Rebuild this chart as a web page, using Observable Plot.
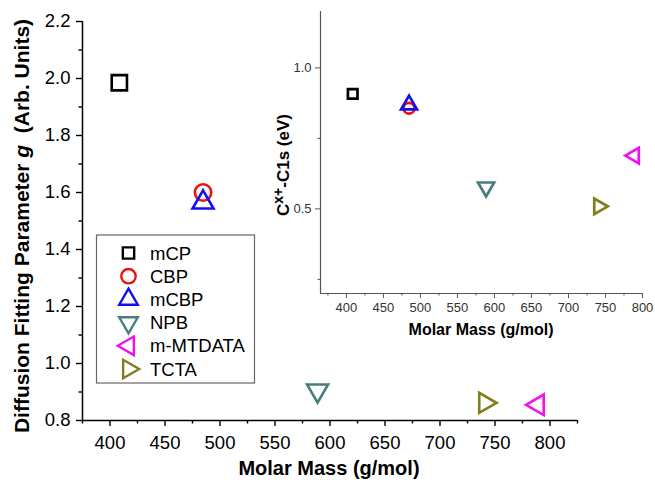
<!DOCTYPE html>
<html><head><meta charset="utf-8">
<script src="https://cdn.jsdelivr.net/npm/d3@7"></script>
<script src="https://cdn.jsdelivr.net/npm/@observablehq/plot@0.6"></script>
<style>
body{margin:0;background:#fff;}
#wrap{position:relative;width:655px;height:485px;overflow:hidden;font-family:"Liberation Sans",Arial,sans-serif;}
#wrap svg{position:absolute;}
</style></head><body><div id="wrap"></div>
<script>
// ---- data ----
const compounds = ["mCP", "CBP", "mCBP", "NPB", "m-MTDATA", "TCTA"];
const molarMass = [408.5, 484.6, 484.6, 588.7, 788.9, 740.9];
const gParam = [1.985, 1.60, 1.565, 0.905, 0.855, 0.862];
const energyShift = [0.908, 0.857, 0.869, 0.577, 0.689, 0.509];

const mainXTicks = [400, 450, 500, 550, 600, 650, 700, 750, 800];
const mainXMinor = [375, 425, 475, 525, 575, 625, 675, 725, 775, 825];
const mainYTicks = [0.8, 1.0, 1.2, 1.4, 1.6, 1.8, 2.0, 2.2];
const mainYMinor = [0.9, 1.1, 1.3, 1.5, 1.7, 1.9, 2.1];
const insetXTicks = [400, 450, 500, 550, 600, 650, 700, 750, 800];
const insetXMinor = [375, 425, 475, 525, 575, 625, 675, 725, 775];
const insetYTicks = [0.5, 1.0];
const insetYMinor = [0.25, 0.75];
const mainXDomain = [375, 825];
const mainYDomain = [0.8, 2.2];
const insetXDomain = [365, 800];
const insetYDomain = [0.2, 1.2];

// ---- styles ----
const colors = ["#000000", "#ee1111", "#1010f0", "#4a7e7e", "#f010f0", "#7f7f1f"];
function tri(angle) {
  return {draw(ctx, size) {
    const y = -Math.sqrt(size / (3 * Math.sqrt(3)));
    const pts = [[0, 2 * y], [-Math.sqrt(3) * y, -y], [Math.sqrt(3) * y, -y]];
    const c = Math.cos(angle), s = Math.sin(angle);
    pts.forEach(([px, py], i) => {
      const X = px * c - py * s, Y = px * s + py * c;
      i ? ctx.lineTo(X, Y) : ctx.moveTo(X, Y);
    });
    ctx.closePath();
  }};
}
const shapes = [d3.symbolSquare, d3.symbolCircle, tri(0), tri(Math.PI), tri(-Math.PI / 2), tri(Math.PI / 2)];
const mainR = [8.6, 8.2, 7.8, 7.8, 7.6, 7.4];
const insetR = [5.4, 5.4, 5.9, 6.0, 5.8, 5.8];
const legendR = [6.4, 7.2, 6.9, 6.9, 6.9, 6.9];

const rows = compounds.map((c, i) => ({name: c, mass: molarMass[i], g: gParam[i], e: energyShift[i]}));
const FONT = '"Liberation Sans", Arial, sans-serif';

function dots(yKey, rArr, sw) {
  return rows.map((d, i) => Plot.dot([d], {
    x: "mass", y: yKey, symbol: shapes[i], r: rArr[i],
    stroke: colors[i], strokeWidth: sw, fill: "none"
  }));
}

const wrap = document.getElementById("wrap");

// ---- main chart ----
const main = Plot.plot({
  width: 655, height: 485,
  marginLeft: 82, marginRight: 78, marginTop: 21, marginBottom: 65,
  style: {fontFamily: FONT, background: "transparent", color: "#000", overflow: "visible"},
  x: {domain: mainXDomain, label: null},
  y: {domain: mainYDomain, label: null},
  marks: [
    Plot.axisX({ticks: mainXTicks, tickSize: 6, tickPadding: 9, strokeWidth: 1.4, fontSize: 18.5, label: null, tickFormat: d => d}),
    Plot.axisX({ticks: mainXMinor, tickSize: 3.5, strokeWidth: 1.4, label: null, tickFormat: () => ""}),
    Plot.axisY({ticks: mainYTicks, tickSize: 6, tickPadding: 6, strokeWidth: 1.4, fontSize: 18.5, label: null, tickFormat: d3.format(".1f")}),
    Plot.axisY({ticks: mainYMinor, tickSize: 3.5, strokeWidth: 1.4, label: null, tickFormat: () => ""}),
    Plot.ruleY([mainYDomain[0]], {strokeWidth: 1.5}),
    Plot.ruleX([mainXDomain[0]], {strokeWidth: 1.5}),
    ...dots("g", mainR, 2.6)
  ]
});
main.style.left = "0px"; main.style.top = "0px";
wrap.appendChild(main);

const ms = d3.select(main);
ms.append("text").attr("x", 329).attr("y", 475).attr("text-anchor", "middle")
  .attr("font-family", FONT).attr("font-size", 20).attr("font-weight", "bold").text("Molar Mass (g/mol)");
const yl = ms.append("text").attr("transform", "translate(29,226) rotate(-90)").attr("text-anchor", "middle")
  .attr("font-family", FONT).attr("font-size", 21).attr("font-weight", "bold");
yl.append("tspan").text("Diffusion Fitting Parameter ");
yl.append("tspan").attr("font-style", "italic").text("g");
yl.append("tspan").style("white-space", "pre").text("  (Arb. Units)");

// legend
const lg = ms.append("g").attr("text-anchor", "start");
lg.append("rect").attr("x", 96.5).attr("y", 235).attr("width", 158).attr("height", 148)
  .attr("fill", "white").attr("stroke", "#666").attr("stroke-width", 1.2);
compounds.forEach((c, i) => {
  const cy = 253 + i * 23.2;
  lg.append("path").attr("transform", `translate(128.5,${cy})`)
    .attr("d", d3.symbol(shapes[i], Math.PI * legendR[i] * legendR[i])())
    .attr("fill", "none").attr("stroke", colors[i]).attr("stroke-width", 2.4);
  lg.append("text").attr("x", 150).attr("y", cy).attr("dy", "0.36em").attr("text-anchor", "start")
    .attr("font-family", FONT).attr("font-size", 18.5).text(c);
});

// ---- inset chart ----
const inset = Plot.plot({
  width: 395, height: 350,
  marginLeft: 60, marginRight: 13, marginTop: 11, marginBottom: 57,
  style: {fontFamily: FONT, background: "transparent", color: "#333", overflow: "visible"},
  x: {domain: insetXDomain, label: null},
  y: {domain: insetYDomain, label: null},
  marks: [
    Plot.axisX({ticks: insetXTicks, tickSize: 5, tickPadding: 4, stroke: "#555", fontSize: 13, label: null, tickFormat: d => d}),
    Plot.axisX({ticks: insetXMinor, tickSize: 2.5, stroke: "#555", label: null, tickFormat: () => ""}),
    Plot.axisY({ticks: insetYTicks, tickSize: 5, tickPadding: 4, stroke: "#555", fontSize: 13, label: null, tickFormat: d3.format(".1f")}),
    Plot.axisY({ticks: insetYMinor, tickSize: 2.5, stroke: "#555", label: null, tickFormat: () => ""}),
    Plot.ruleY([insetYDomain[0]], {stroke: "#555", strokeWidth: 1.2}),
    Plot.ruleX([insetXDomain[0]], {stroke: "#555", strokeWidth: 1.2}),
    ...dots("e", insetR, 2.7)
  ]
});
inset.style.left = "260px"; inset.style.top = "0px";
wrap.appendChild(inset);
const is = d3.select(inset);
is.append("text").attr("x", 221).attr("y", 335).attr("text-anchor", "middle").attr("fill", "#000")
  .attr("font-family", FONT).attr("font-size", 16).attr("font-weight", "bold").text("Molar Mass (g/mol)");
const il = is.append("text").attr("transform", "translate(28.5,165) rotate(-90)").attr("text-anchor", "middle").attr("fill", "#000")
  .attr("font-family", FONT).attr("font-size", 17).attr("font-weight", "bold");
il.append("tspan").text("C");
il.append("tspan").attr("font-size", 14).attr("dy", -6).text("x+");
il.append("tspan").attr("dy", 6).text("-C1s (eV)");
</script></body></html>
